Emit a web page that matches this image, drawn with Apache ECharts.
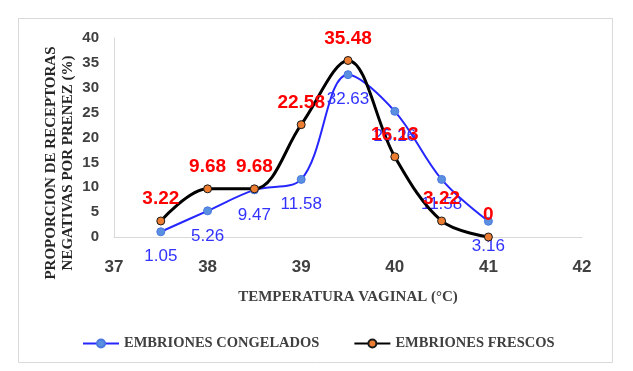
<!DOCTYPE html>
<html>
<head>
<meta charset="utf-8">
<script src="https://cdn.jsdelivr.net/npm/echarts@6/dist/echarts.min.js"></script>
<style>html,body{margin:0;padding:0;background:#fff}#c{width:633px;height:371px}</style>
</head>
<body>
<div id="c"></div>
<script>
var temperatures = [37.5, 38, 38.5, 39, 39.5, 40, 40.5, 41];
var congelados = [1.05, 5.26, 9.47, 11.58, 32.63, 25.26, 11.58, 3.16];
var frescos = [3.22, 9.68, 9.68, 22.58, 35.48, 16.13, 3.22, 0];
var seriesNames = ['EMBRIONES CONGELADOS', 'EMBRIONES FRESCOS'];
var xTitle = 'TEMPERATURA VAGINAL (°C)';
var yTitle = 'PROPORCION DE RECEPTORAS\nNEGATIVAS POR PRENEZ (%)';

function pairs(xs, ys) { return xs.map(function (x, i) { return [x, ys[i]]; }); }

var chart = echarts.init(document.getElementById('c'), null, {renderer: 'canvas'});
var serif = '"Liberation Serif", "Times New Roman", serif';
var sans = '"Liberation Sans", Arial, sans-serif';
chart.setOption({
  animation: false,
  backgroundColor: '#fff',
  graphic: [{
    type: 'rect', shape: {x: 18.5, y: 18.5, width: 594, height: 344},
    style: {fill: 'none', stroke: '#d9d9d9', lineWidth: 1}
  }, {
    type: 'text', x: 60, y: 163, rotation: Math.PI / 2,
    style: {text: yTitle, font: 'bold 15px ' + serif, fill: '#262626', align: 'center', verticalAlign: 'middle', lineHeight: 17}
  }],
  grid: {left: 114, right: 51, top: 38, bottom: 134},
  legend: {
    data: seriesNames, left: 77, top: 331, itemWidth: 36, itemHeight: 10, itemGap: 34,
    textStyle: {fontFamily: serif, fontWeight: 'bold', fontSize: 14.5, color: '#404040'}
  },
  xAxis: {
    type: 'value', min: 37, max: 42, interval: 1,
    name: xTitle, nameLocation: 'middle', nameGap: 53,
    nameTextStyle: {fontFamily: serif, fontWeight: 'bold', fontSize: 15, color: '#404040'},
    axisLine: {show: true, lineStyle: {color: '#d9d9d9', width: 1}},
    axisTick: {show: false}, splitLine: {show: false},
    axisLabel: {margin: 22, fontFamily: sans, fontWeight: 'bold', fontSize: 17, color: '#404040'}
  },
  yAxis: {
    type: 'value', min: 0, max: 40, interval: 5,
    axisLine: {show: true, lineStyle: {color: '#d9d9d9', width: 1}},
    axisTick: {show: false}, splitLine: {show: false},
    axisLabel: {margin: 15, fontFamily: sans, fontWeight: 'bold', fontSize: 15, color: '#404040'}
  },
  series: [{
    name: seriesNames[0], type: 'line', smooth: 0.35, data: pairs(temperatures, congelados),
    symbol: 'circle', symbolSize: 8, z: 2,
    lineStyle: {color: '#2626ff', width: 2},
    itemStyle: {color: '#5b8fe0', borderColor: '#4a78e0', borderWidth: 1},
    label: {show: true, position: 'bottom', distance: 12, fontFamily: sans, fontSize: 17, color: '#3232ff',
      formatter: function (p) { return p.value[1]; }}
  }, {
    name: seriesNames[1], type: 'line', smooth: 0.35, data: pairs(temperatures, frescos),
    symbol: 'circle', symbolSize: 8, z: 3,
    lineStyle: {color: '#000', width: 3},
    itemStyle: {color: '#ed7d31', borderColor: '#1a1a1a', borderWidth: 1},
    label: {show: true, position: 'top', distance: 8, fontFamily: sans, fontWeight: 'bold', fontSize: 19, color: '#ff0000',
      formatter: function (p) { return p.value[1]; }}
  }]
});
</script>
</body>
</html>
